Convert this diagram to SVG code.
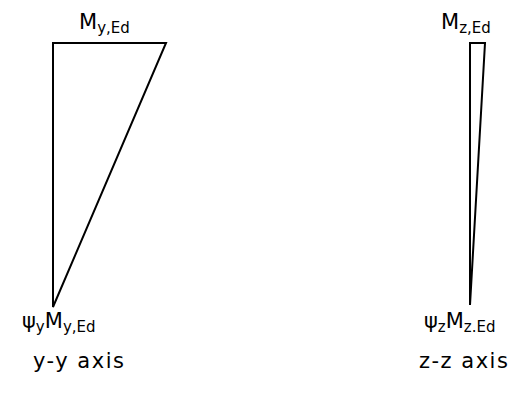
<svg xmlns="http://www.w3.org/2000/svg" width="520" height="394" viewBox="0 0 520 394">
<style>
.s{fill:none;stroke:#000;stroke-width:2;stroke-linejoin:miter}
text{font-family:"DejaVu Sans","Verdana",sans-serif;fill:#000}
.m{font-size:21px}
.sb{font-size:15px}
.ax{font-size:21px;letter-spacing:1.5px}
</style>
<rect width="520" height="394" fill="#fff"/>
<g id="yy-diagram">
<polygon class="s" points="53,43 166,43 53,307"/>
<text class="m" x="79" y="29">M<tspan class="sb" dy="4">y,Ed</tspan></text>
<text class="m" x="22" y="328">ψ<tspan class="sb" dy="4">y</tspan><tspan dy="-4">M</tspan><tspan class="sb" dy="4">y,Ed</tspan></text>
<text class="ax" x="33" y="368">y-y axis</text>
</g>
<g id="zz-diagram">
<polygon class="s" points="470,43 485,43 470,305"/>
<text class="m" x="441" y="29">M<tspan class="sb" dy="4">z,Ed</tspan></text>
<text class="m" x="424" y="328">ψ<tspan class="sb" dy="4">z</tspan><tspan dy="-4">M</tspan><tspan class="sb" dy="4">z.Ed</tspan></text>
<text class="ax" x="419" y="368">z-z axis</text>
</g>
</svg>
